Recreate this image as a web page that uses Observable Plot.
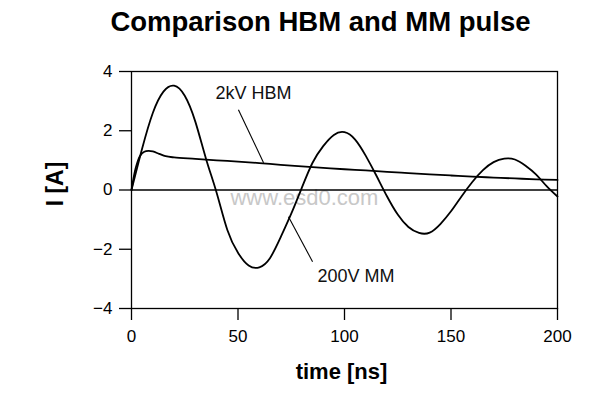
<!DOCTYPE html>
<html>
<head>
<meta charset="utf-8">
<script src="https://cdn.jsdelivr.net/npm/d3@7"></script>
<script src="https://cdn.jsdelivr.net/npm/@observablehq/plot@0.6"></script>
<style>
  html, body { margin: 0; padding: 0; background: #fff; }
  #chart svg { display: block; }
</style>
</head>
<body>
<div id="chart"></div>
<script>
// time axis (ns) for the 200V MM curve
const mmTime = [0, 5, 10, 15, 20, 25, 30, 35, 40, 45, 50, 55, 60, 65, 70, 75, 80, 85, 90, 95, 100,
  105, 110, 115, 120, 125, 130, 135, 140, 145, 150, 155, 160, 165, 170, 175, 180, 185, 190, 195, 200];
// current (A) for the 200V MM curve
const mmCurrent = [0, 1.4, 2.6, 3.32, 3.52, 3.18, 2.3, 1.05, -0.1, -1.35, -2.12, -2.55, -2.61, -2.3, -1.6, -0.8, 0.08, 0.92, 1.48, 1.86, 1.95,
  1.7, 1.15, 0.48, -0.22, -0.83, -1.25, -1.45, -1.44, -1.15, -0.72, -0.21, 0.27, 0.67, 0.94, 1.06, 1.03, 0.82, 0.52, 0.12, -0.22];

// time axis (ns) for the 2kV HBM curve
const hbmTime = [0, 2, 4, 6, 8, 10, 13, 16, 20, 30, 40, 50, 60, 70, 80, 90, 100, 110, 120, 130, 140, 150, 160, 170, 180, 190, 200];
// current (A) for the 2kV HBM curve
const hbmCurrent = [0, 0.75, 1.15, 1.29, 1.32, 1.3, 1.22, 1.14, 1.1, 1.05, 1.0, 0.96, 0.91, 0.85, 0.8, 0.75, 0.7, 0.66, 0.61, 0.57, 0.53, 0.49, 0.45, 0.42, 0.39, 0.36, 0.34];

const xTicks = [0, 50, 100, 150, 200];
const yTicks = [-4, -2, 0, 2, 4];

// annotation labels and their leader lines (data coordinates)
const labelText = ["2kV HBM", "200V MM"];
const labelX = [39.4, 87.3];
const labelY = [3.27, -2.9];
const leaderX1 = [50.2, 85.0];
const leaderY1 = [2.71, -2.42];
const leaderX2 = [62.0, 73.7];
const leaderY2 = [0.92, -0.9];

const titleText = "Comparison HBM and MM pulse";
const xLabel = "time [ns]";
const yLabel = "I [A]";
const watermark = "www.esd0.com";
const watermarkPos = [81.2, -0.26];

const mm = mmTime.map((t, i) => ({t, v: mmCurrent[i]}));
const hbm = hbmTime.map((t, i) => ({t, v: hbmCurrent[i]}));
const labels = labelText.map((s, i) => ({s, x: labelX[i], y: labelY[i]}));
const leaders = labelText.map((s, i) => ({x1: leaderX1[i], y1: leaderY1[i], x2: leaderX2[i], y2: leaderY2[i]}));

const font = "'Liberation Sans', Arial, Helvetica, sans-serif";

const chart = Plot.plot({
  width: 613,
  height: 397,
  marginLeft: 131,
  marginRight: 56,
  marginTop: 71,
  marginBottom: 89,
  style: {fontFamily: font, fontSize: "17px", color: "#000", background: "#fff", overflow: "visible"},
  x: {domain: [0, 200], label: null},
  y: {domain: [-4, 4], label: null},
  marks: [
    Plot.text([watermark], {x: () => watermarkPos[0], y: () => watermarkPos[1], text: d => d, fill: "#c8c8c8", fontSize: 22, textAnchor: "middle"}),
    Plot.ruleY([0], {stroke: "#000", strokeWidth: 1.3}),
    Plot.frame({stroke: "#000", strokeWidth: 1.3}),
    Plot.axisX({ticks: xTicks, tickSize: 12, tickPadding: 9, fontSize: 17, label: null, stroke: "#000", strokeWidth: 1.3}),
    Plot.axisY({ticks: yTicks, tickSize: 12, tickPadding: 7, fontSize: 17, label: null, stroke: "#000", strokeWidth: 1.3}),
    Plot.line(hbm, {x: "t", y: "v", stroke: "#000", strokeWidth: 1.8, curve: "catmull-rom"}),
    Plot.line(mm, {x: "t", y: "v", stroke: "#000", strokeWidth: 1.8, curve: "natural"}),
    Plot.link(leaders, {x1: "x1", y1: "y1", x2: "x2", y2: "y2", stroke: "#000", strokeWidth: 1.1}),
    Plot.text(labels, {x: "x", y: "y", text: "s", textAnchor: "start", fontSize: 18, fill: "#111"}),
    Plot.text([titleText], {frameAnchor: "top", lineAnchor: "middle", textAnchor: "middle", text: d => d, dx: -24, dy: -49, fontSize: 27.5, fontWeight: "bold", fill: "#000", letterSpacing: 1.2}),
    Plot.text([xLabel], {frameAnchor: "bottom", lineAnchor: "middle", textAnchor: "middle", text: d => d, dx: -3, dy: 63, fontSize: 22, fontWeight: "bold", fill: "#000"}),
    Plot.text([yLabel], {frameAnchor: "left", lineAnchor: "middle", textAnchor: "middle", text: d => d, dx: -76, dy: -6, rotate: -90, fontSize: 23, fontWeight: "bold", fill: "#000", letterSpacing: 2})
  ]
});
document.getElementById("chart").appendChild(chart);
</script>
</body>
</html>
